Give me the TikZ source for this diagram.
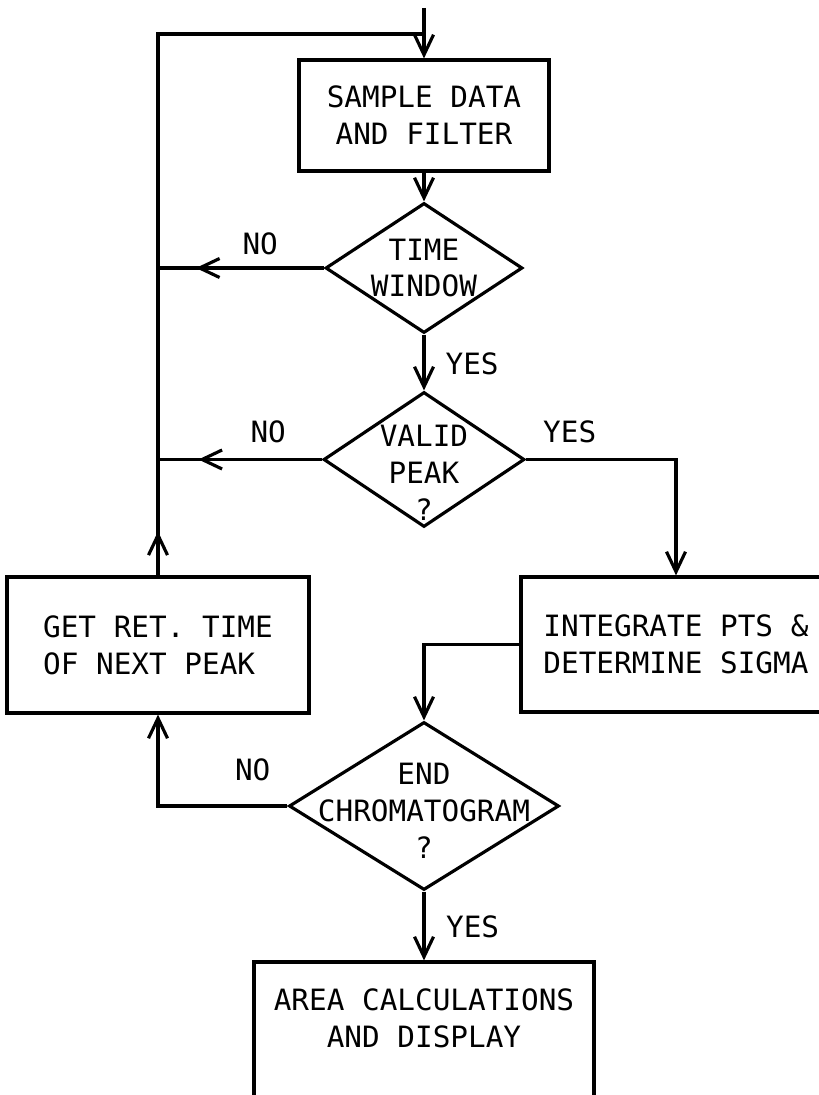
\documentclass[tikz,border=0pt]{standalone}
\usepackage{fontspec}
\setmonofont{DejaVu Sans Mono}
\usepackage{tikz}
\usetikzlibrary{arrows.meta, positioning, shapes.geometric}

\begin{document}
\begin{tikzpicture}[scale=1.0, line width=1.8pt,
    every node/.style={font=\ttfamily\fontsize{16.7}{21}\selectfont},
    procbox/.style={draw, rectangle, inner sep=0pt, align=center},
    decision/.style={draw, diamond, inner sep=0pt},
    txt/.style={inner sep=0pt, align=center},
    lbl/.style={inner sep=0pt},
    arr/.style={-{Straight Barb[length=4mm,width=3.8mm]}}]
  \useasboundingbox (0,0) rectangle (16.38,21.9);
  \clip (0,0) rectangle (16.38,21.9);

  % boxes and decisions
  \node[procbox, minimum width=5.0cm, minimum height=2.22cm] (sd) at (8.48,19.59)
    {SAMPLE DATA\\AND FILTER};
  \node[decision, minimum width=3.94cm, minimum height=2.6cm] (tw) at (8.48,16.54) {};
  \node[txt] (twtxt) at (tw) {TIME\\WINDOW};
  \node[decision, minimum width=4.02cm, minimum height=2.7cm] (vp) at (8.48,12.71) {};
  \node[txt, yshift=-0.27cm] (vptxt) at (vp) {VALID\\PEAK\\?};
  \node[procbox, align=left, minimum width=6.04cm, minimum height=2.72cm] (gr) at (3.16,9.0)
    {GET RET. TIME\\OF NEXT PEAK};
  \node[procbox, minimum width=6.2cm, minimum height=2.7cm] (ip) at (13.52,9.01)
    {INTEGRATE PTS \&\\DETERMINE SIGMA};
  \node[decision, minimum width=5.4cm, minimum height=3.36cm] (ec) at (8.48,5.78) {};
  \node[txt, yshift=-0.09cm] (ectxt) at (ec) {END\\CHROMATOGRAM\\?};
  \node[procbox, minimum width=6.8cm, minimum height=3.2cm] (ad) at (8.48,1.06) {};
  \node[txt] (adtxt) at (8.48,1.53) {AREA CALCULATIONS\\AND DISPLAY};

  \coordinate (in) at (8.48,21.74);
  \coordinate (join) at (8.48,21.22);

  % connectors
  \draw[arr] (in) -- (sd.north);
  \draw[arr] (sd.south) -- (tw.north);
  \draw[arr] (tw.south) -- (vp.north);
  \draw[arr] (tw.west) -- ++(-2.56,0);
  \draw (tw.west) -- (tw.west -| gr.north);
  \draw[arr] (vp.west) -- ++(-2.47,0);
  \draw (vp.west) -- (vp.west -| gr.north);
  \draw[arr] (gr.north) -- ++(0,0.88);
  \draw (gr.north) |- (join);
  \draw[arr] (vp.east) -| (ip.north);
  \draw[arr] (ip.west) -| (ec.north);
  \draw[arr] (ec.west) -| (gr.south);
  \draw[arr] (ec.south) -- (ec.south |- ad.north);

  % yes/no labels
  \node[lbl, above left=0.22cm and 0.89cm of tw.west] (no1) {NO};
  \node[lbl, below right=0.34cm and 0.4cm of tw.south] (yes1) {YES};
  \node[lbl, above left=0.3cm and 0.69cm of vp.west] (no2) {NO};
  \node[lbl, above right=0.3cm and 0.31cm of vp.east] (yes2) {YES};
  \node[lbl, above left=0.48cm and 0.31cm of ec.west] (no3) {NO};
  \node[lbl, below right=0.46cm and 0.41cm of ec.south] (yes3) {YES};
\end{tikzpicture}
\end{document}
